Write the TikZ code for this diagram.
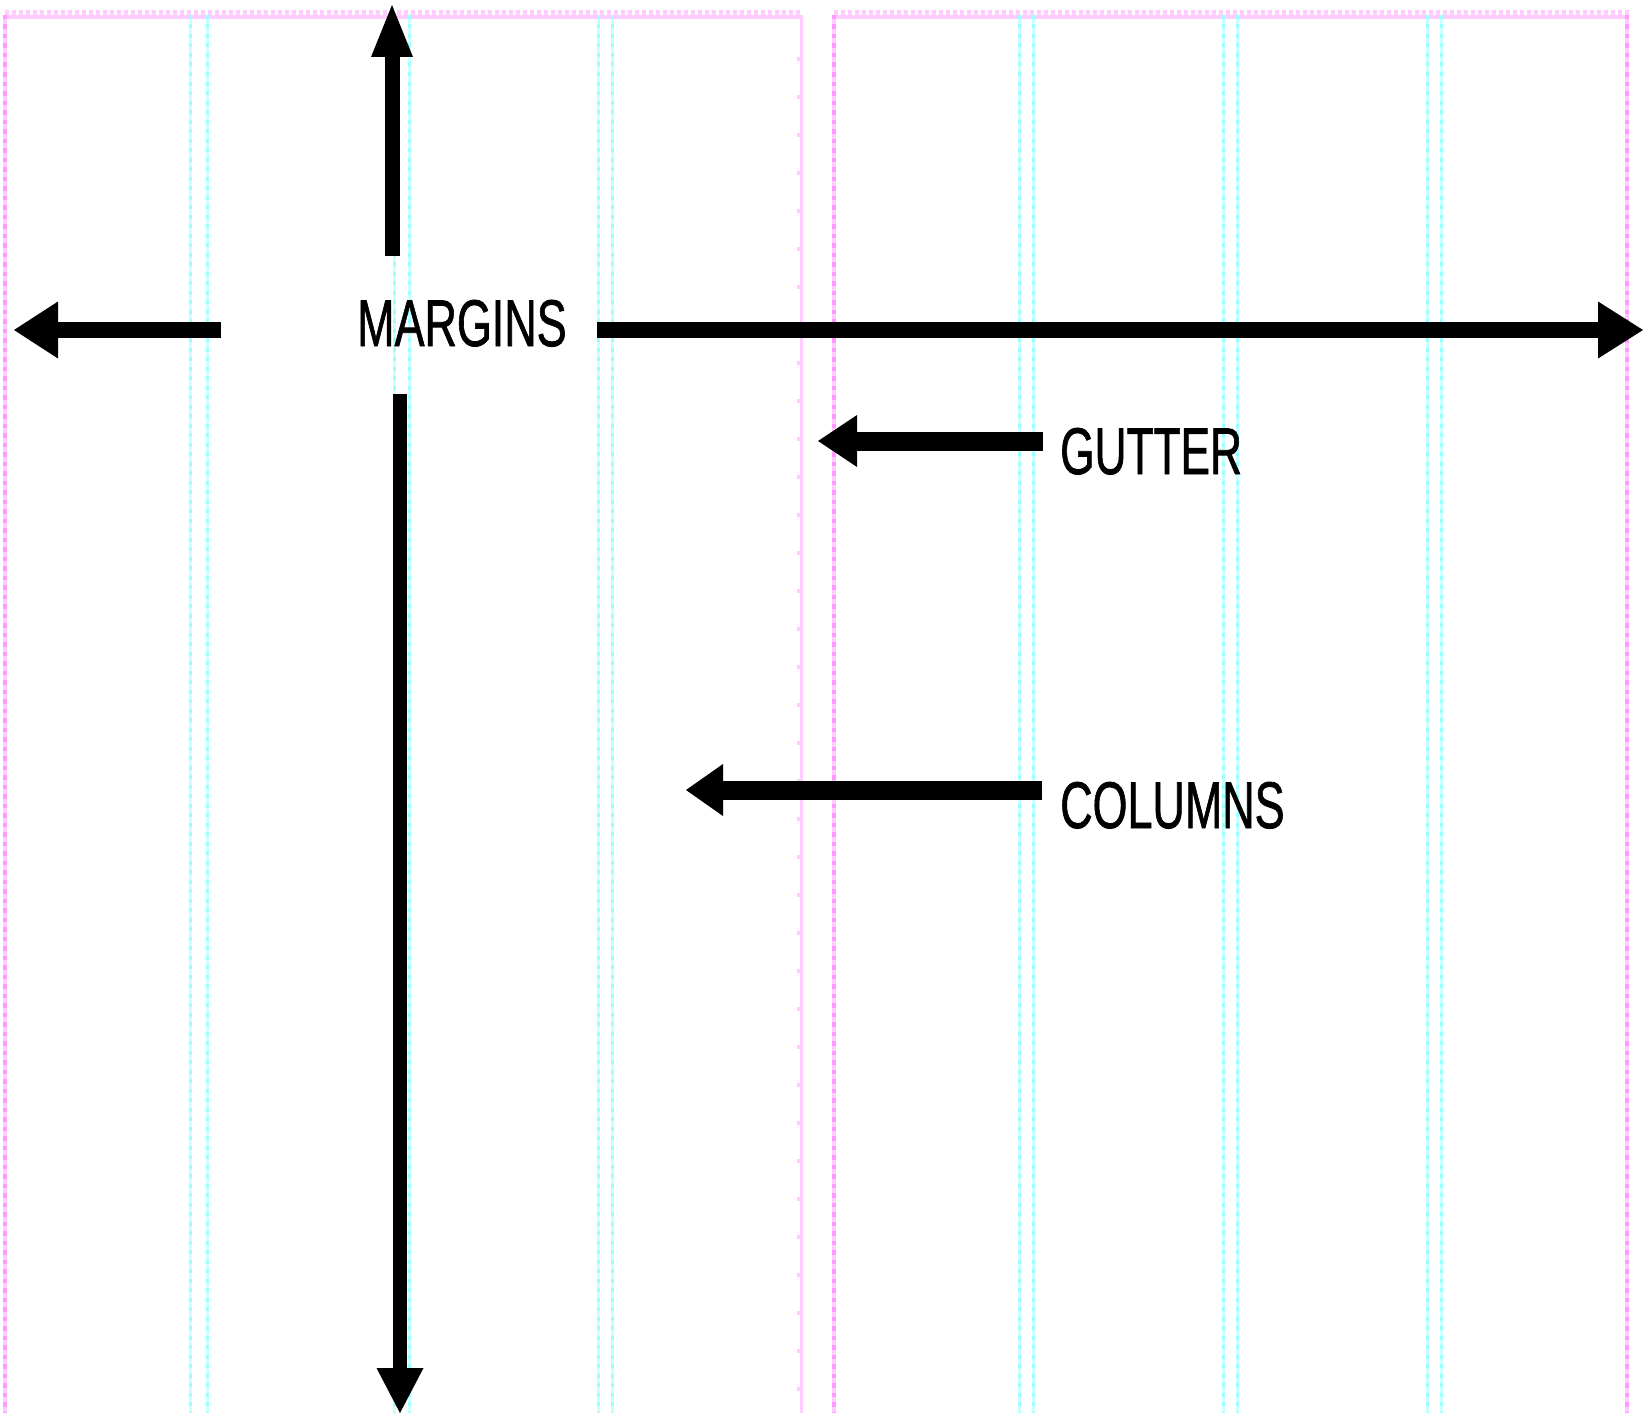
\documentclass[tikz,border=0pt]{standalone}
\usepackage{fontspec}
\usepackage{graphicx}
\setmainfont{Liberation Sans}
\newfontfamily\lblfont[FakeBold=1.3]{Liberation Sans}
\usetikzlibrary{arrows.meta}
\definecolor{pinklt}{HTML}{FFCCFF}
\definecolor{pinkdk}{HTML}{FF99FF}
\definecolor{cyanlt}{HTML}{CCFFFF}
\definecolor{cyandk}{HTML}{99FFFF}
\tikzset{
  guidemag/.style={pinklt, line width=4pt},
  guidemagdash/.style={pinkdk, line width=4pt, dash pattern=on 4.5pt off 5pt},
  guidetick/.style={pinklt, line width=5pt, dash pattern=on 4pt off 3pt},
  guidecyan/.style={cyanlt, line width=3pt},
  guidecyandash/.style={cyandk, line width=3pt, dash pattern=on 4pt off 5.5pt},
  fatarrow/.style n args={3}{line width=#1, -{Triangle[length=#2, width=#3, line width=0pt]}},
  lbl/.style={font=\fontsize{66}{70}\lblfont, inner sep=0pt, anchor=base west}
}
\begin{document}
\begin{tikzpicture}[x=1pt,y=-1pt]
\useasboundingbox (0,0) rectangle (1645,1413);
% top rules with ticks
\draw[guidemag] (5,17) -- (802,17);
\draw[guidetick] (5,12.5) -- (802,12.5);
\draw[guidemag] (834,17) -- (1629,17);
\draw[guidetick] (834,12.5) -- (1629,12.5);
% page edges
\foreach \x in {5,834,1627} {
  \draw[guidemag] (\x,15) -- (\x,1413);
  \draw[guidemagdash] (\x,15) -- (\x,1413);
}
\draw[guidemag, line width=3pt] (801,15) -- (801,1413);
\foreach \y in {59,97,...,1413} \draw[pinklt, line width=4pt] (797,\y) -- (801,\y);
% column guides
\foreach \x in {190,207,394,409,598,612,1019,1033,1223,1237,1427,1441} {
  \draw[guidecyan] (\x,15) -- (\x,1413);
  \draw[guidecyandash] (\x,15) -- (\x,1413);
}
% labels
\node[lbl] (margins) at (357,346) {\scalebox{0.68}[1]{MARGINS}};
\node[lbl] (gutter) at (1060,474) {\scalebox{0.67}[1]{GUTTER}};
\node[lbl] (columns) at (1060,828) {\scalebox{0.68}[1]{COLUMNS}};
% arrow ends
\coordinate (upS) at (392,256);
\coordinate (upT) at (392,5);
\coordinate (dnS) at (400,394);
\coordinate (dnT) at (400,1413);
\coordinate (lfS) at (221,330);
\coordinate (lfT) at (14,330);
\coordinate (rtS) at (597,330);
\coordinate (rtT) at (1643,330);
\coordinate (guS) at (1043,441);
\coordinate (guT) at (818,441);
\coordinate (coS) at (1042,790);
\coordinate (coT) at (686,790);
% arrows
\draw[fatarrow={15pt}{52pt}{42pt}] (upS) -- (upT);
\draw[fatarrow={14pt}{45pt}{47pt}] (dnS) -- (dnT);
\draw[fatarrow={16pt}{44pt}{57pt}] (lfS) -- (lfT);
\draw[fatarrow={16pt}{45pt}{57pt}] (rtS) -- (rtT);
\draw[fatarrow={19pt}{39pt}{52pt}] (guS) -- (guT);
\draw[fatarrow={19pt}{37pt}{52pt}] (coS) -- (coT);
\end{tikzpicture}
\end{document}
